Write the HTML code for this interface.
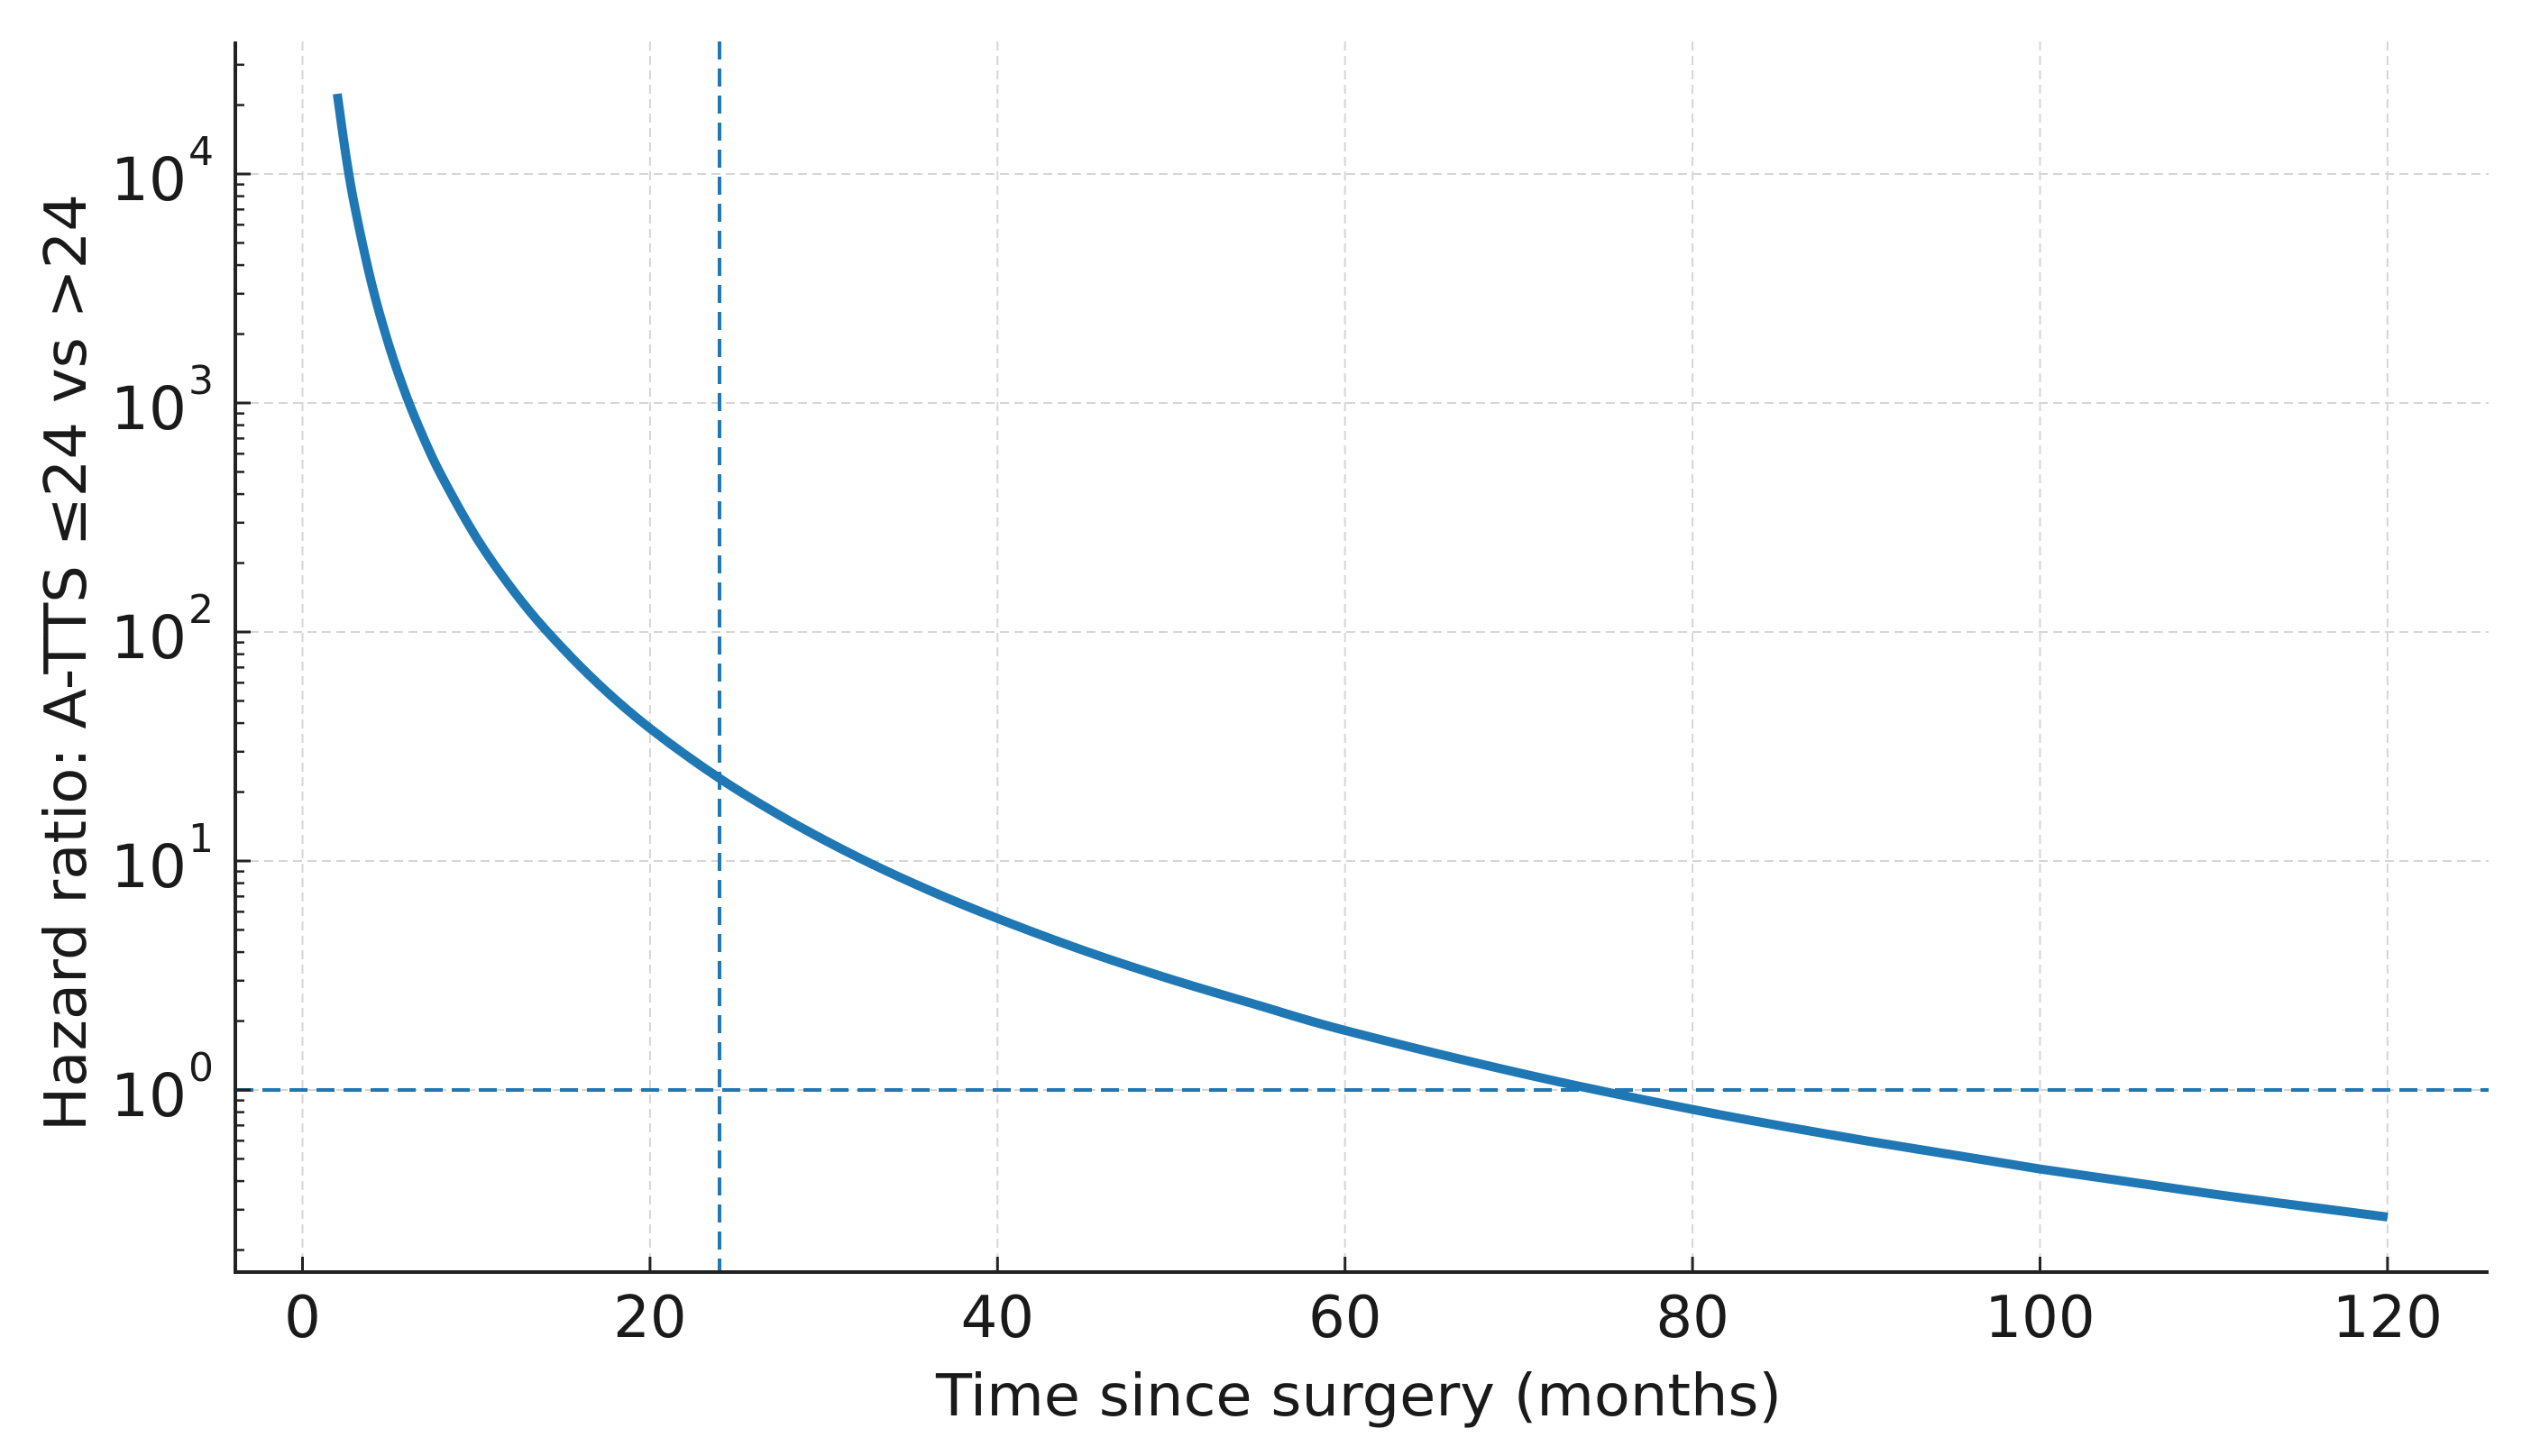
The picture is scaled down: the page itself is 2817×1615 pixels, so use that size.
<!DOCTYPE html>
<html><head><meta charset="utf-8"><style>
html,body{margin:0;padding:0;background:#fff;}
svg{display:block;font-family:"DejaVu Sans","Liberation Sans",sans-serif;}
</style></head><body>
<svg id="chart" width="2817" height="1615" viewBox="0 0 2817 1615" xmlns="http://www.w3.org/2000/svg">
<rect width="2817" height="1615" fill="#fff"/>
<g id="grid"></g>
<g id="refs"></g>
<g id="series"></g>
<g id="axes"></g>
<text x="1507" y="1570" text-anchor="middle" font-size="64" textLength="938" lengthAdjust="spacingAndGlyphs" fill="#1a1a1a">Time since surgery (months)</text>
<text transform="translate(95,735) rotate(-90)" text-anchor="middle" font-size="64" textLength="1040" lengthAdjust="spacingAndGlyphs" fill="#1a1a1a">Hazard ratio: A-TTS ≤24 vs &gt;24</text>
</svg>
<script>
const months = [2,2.5,3,4,5,6,7,8,10,12,14,17,20,24,28,32,36,40,45,50,55,60,70,80,90,100,110,120];
const logHR = [4.35,4.08,3.86,3.515,3.246,3.026,2.842,2.682,2.413,2.194,2.009,1.775,1.579,1.361,1.176,1.015,0.874,0.749,0.608,0.483,0.37,0.26,0.075,-0.085,-0.222,-0.345,-0.455,-0.555];
const xTicks = [0,20,40,60,80,100,120];
const yDecades = [0,1,2,3,4];
const refX = [24];
const refY = [1];

const NS="http://www.w3.org/2000/svg";
const L=261,R=2760,T=46,B=1411;
const X0=335.5,PXM=19.27;
const Y0=1209,PXD=254;
function sx(v){return X0+v*PXM;}
function sy(v){return Y0-Math.log10(v)*PXD;}
function mk(parent,tag,attrs){const e=document.createElementNS(NS,tag);for(const k in attrs)e.setAttribute(k,attrs[k]);document.getElementById(parent).appendChild(e);return e;}

xTicks.forEach(t=>{
  const g=mk('grid','line',{x1:sx(t),x2:sx(t),y1:T,y2:B,stroke:'#d6d6d6','stroke-width':2,'stroke-dasharray':'10,6'});
  
  
  const tk=mk('axes','line',{x1:sx(t),x2:sx(t),y1:B,y2:B-17,stroke:'#222','stroke-width':3});
  
  
  const lb=mk('axes','text',{x:sx(t),y:1483,'text-anchor':'middle','font-size':64,fill:'#1a1a1a'});
  lb.textContent=String(t);
  
  
});
const yMin=Math.pow(10,(Y0-B)/PXD), yMax=Math.pow(10,(Y0-T)/PXD);
for(let d=-1;d<=5;d++){
  for(let m=1;m<=9;m++){
    const v=m*Math.pow(10,d);
    if(v<yMin||v>yMax)continue;
    const y=sy(v);
    const mt=mk('axes','line',{x1:L,x2:L+(m===1?17:10),y1:y,y2:y,stroke:'#222','stroke-width':m===1?3:2.5});
    
    
  }
}
yDecades.forEach(d=>{
  const y=sy(Math.pow(10,d));
  const g=mk('grid','line',{x1:L,x2:R,y1:y,y2:y,stroke:'#d6d6d6','stroke-width':2,'stroke-dasharray':'10,6'});
  
  
  const lb=mk('axes','text',{x:207,y:y+29,'text-anchor':'end','font-size':66,fill:'#1a1a1a'});
  lb.textContent='10';
  
  
  const sp=mk('axes','text',{x:209,y:y-10,'text-anchor':'start','font-size':44,fill:'#1a1a1a'});
  sp.textContent=String(d);
  
  
});
refX.forEach(v=>{
  const l=mk('refs','line',{x1:sx(v),x2:sx(v),y1:T,y2:B,stroke:'#1f77b4','stroke-width':4,'stroke-dasharray':'20,10'});
  
  
});
refY.forEach(v=>{
  const l=mk('refs','line',{x1:L,x2:R,y1:sy(v),y2:sy(v),stroke:'#1f77b4','stroke-width':4,'stroke-dasharray':'20,10'});
  
  
});
const pts=months.map((m,i)=>[sx(m),sy(Math.pow(10,logHR[i]))]);
let d='M'+pts[0][0]+','+pts[0][1];
for(let i=0;i<pts.length-1;i++){
  const p0=pts[Math.max(0,i-1)],p1=pts[i],p2=pts[i+1],p3=pts[Math.min(pts.length-1,i+2)];
  const c1=[p1[0]+(p2[0]-p0[0])/6,p1[1]+(p2[1]-p0[1])/6];
  const c2=[p2[0]-(p3[0]-p1[0])/6,p2[1]-(p3[1]-p1[1])/6];
  d+=' C'+c1[0]+','+c1[1]+' '+c2[0]+','+c2[1]+' '+p2[0]+','+p2[1];
}
const c=mk('series','path',{d:d,fill:'none',stroke:'#1f77b4','stroke-width':10});


const ya=mk('axes','line',{x1:L,x2:L,y1:T,y2:B+2,stroke:'#222','stroke-width':4});


const xa=mk('axes','line',{x1:L-2,x2:R,y1:B,y2:B,stroke:'#222','stroke-width':4});


</script>
</body></html>
